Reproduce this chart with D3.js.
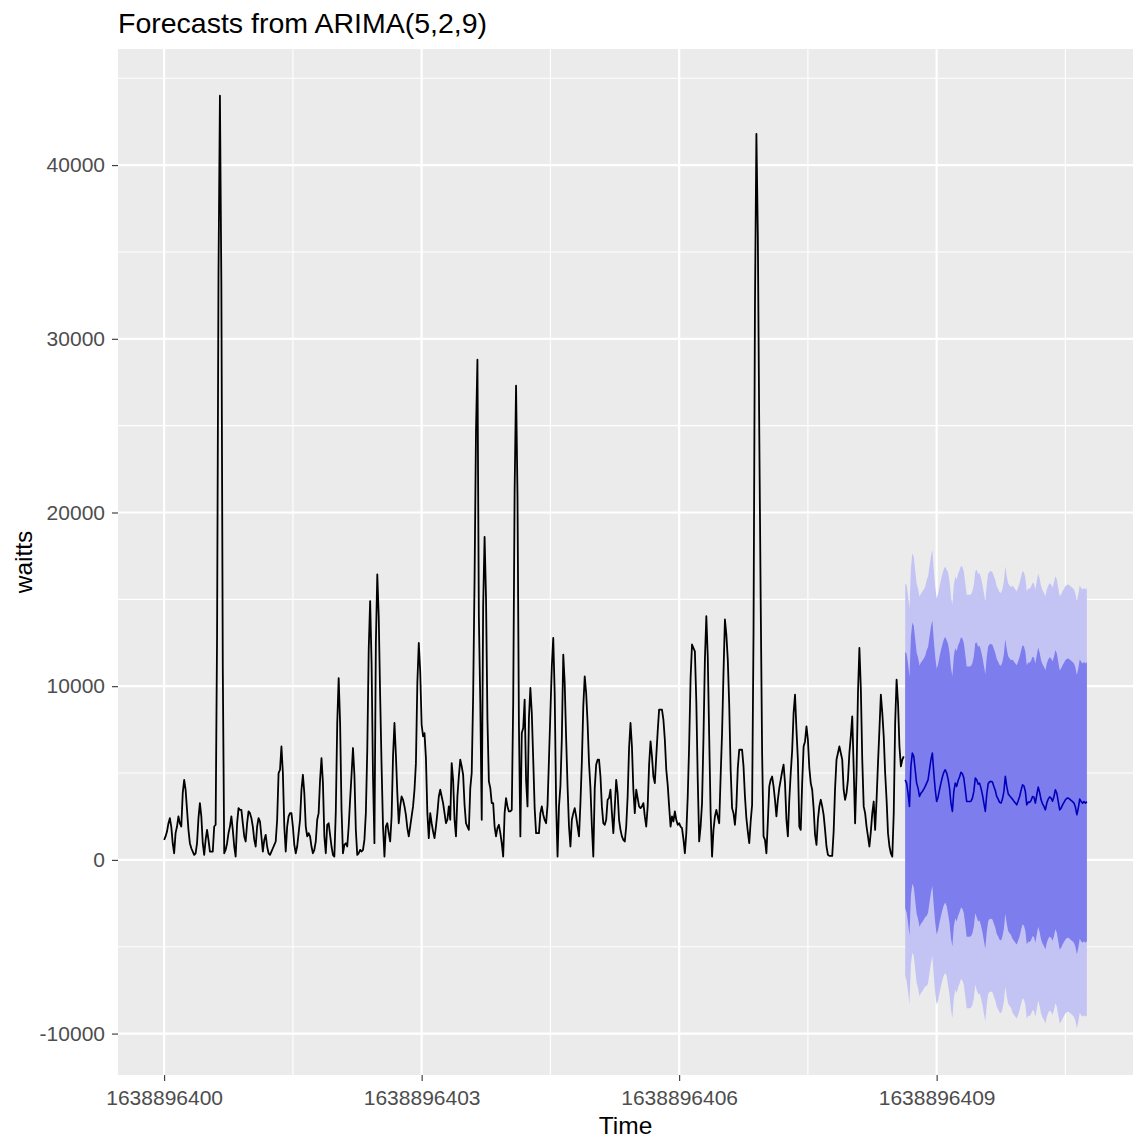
<!DOCTYPE html>
<html>
<head>
<meta charset="utf-8">
<script src="https://cdn.jsdelivr.net/npm/d3@7"></script>
<style>
  body { margin: 0; background: #ffffff; }
  svg { font-family: "Liberation Sans", Arial, sans-serif; }
</style>
</head>
<body>
<script>
// series start + sampling rate (ts attributes)
const startTime = 1638896400;
const frequency = 60;

// observed series "waitts"
const waitts = [
  1150, 1350, 1630, 2100, 2400, 1900, 960, 380, 1540, 1920,
  2500, 2100, 1920, 3840, 4600, 4040, 2880, 1730, 960, 670,
  480, 290, 380, 960, 2400, 3270, 2500, 960, 290, 1150,
  1730, 1150, 480, 480, 480, 1920, 2020, 12900, 33750, 44000,
  33100, 11100, 380, 580, 960, 1540, 1920, 2500, 1730, 770,
  190, 2100, 2980, 2880, 2880, 2100, 1350, 1060, 2100, 2790,
  2690, 2400, 1920, 1150, 770, 1920, 2400, 2210, 1350, 480,
  1150, 1440, 770, 380, 290, 480, 670, 860, 1060, 2310,
  5000, 5190, 6530, 5000, 1920, 480, 1920, 2500, 2690, 2690,
  1920, 860, 380, 770, 1540, 2310, 4040, 4900, 3840, 1920,
  1350, 1540, 1350, 770, 380, 580, 1060, 2310, 2690, 4610,
  5860, 4420, 1350, 380, 2020, 2110, 1440, 770, 290, 190,
  2790, 7880, 10470, 7880, 2880, 380, 860, 960, 770, 1920,
  3460, 4900, 6440, 4900, 1730, 290, 380, 580, 480, 580,
  1150, 2690, 6340, 12110, 14900, 11340, 4800, 960, 12490, 16430,
  14030, 9420, 5380, 1920, 190, 1920, 2110, 1540, 1060, 2500,
  5960, 7880, 6050, 3840, 2110, 3080, 3650, 3460, 3080, 2590,
  1830, 1350, 1920, 2500, 3080, 4040, 5570, 10190, 12490, 10860,
  7780, 7110, 7300, 5860, 2690, 1250, 2690, 2110, 1630, 1250,
  1920, 2690, 3650, 4040, 3650, 3270, 2690, 2110, 2310, 3080,
  2310, 5570, 4610, 2310, 1350, 3650, 4800, 5770, 5380, 4900,
  3170, 2110, 1920, 1730, 4130, 5000, 9420, 16240, 24700, 28800,
  14000, 9050, 2310, 14600, 18600, 15100, 8070, 4520, 4130, 3270,
  3270, 1920, 1350, 1830, 2020, 1540, 960, 190, 2690, 3560,
  3080, 2790, 2790, 2880, 9030, 21300, 27300, 21000, 7780, 1350,
  7300, 7590, 9230, 4610, 3080, 8170, 9900, 8460, 5770, 2980,
  1540, 1540, 1540, 2690, 3080, 2600, 2300, 2110, 3170, 5770,
  8460, 11150, 12780, 9610, 3270, 190, 3080, 4230, 7000, 11820,
  10190, 7020, 4230, 1920, 770, 2310, 2690, 2980, 2500, 1920,
  1350, 3270, 5670, 8840, 10570, 9610, 7880, 5570, 4130, 1920,
  190, 4130, 5480, 5770, 5770, 4800, 3080, 2110, 2020, 2310,
  3460, 3560, 4040, 2690, 1540, 3000, 4610, 3840, 2310, 1730,
  1350, 1150, 1060, 1920, 3650, 6440, 7880, 6530, 4040, 2690,
  4040, 3560, 3080, 2980, 3080, 3270, 2500, 1920, 3080, 5480,
  6820, 5960, 4800, 4420, 5960, 7400, 8650, 8650, 8650, 8070,
  6920, 5190, 4320, 3080, 1920, 2500, 2210, 2790, 2310, 2020,
  2110, 1920, 1830, 1200, 380, 1540, 3650, 6630, 10470, 12400,
  12200, 12000, 9130, 4610, 1060, 1920, 3270, 7000, 11530, 14030,
  11720, 7110, 2690, 190, 1730, 2500, 2880, 2500, 2110, 4800,
  7300, 10760, 13840, 12970, 11530, 8940, 5190, 2980, 2690, 2020,
  3080, 5290, 6340, 6340, 6340, 5380, 3650, 2400, 1630, 960,
  2210, 3170, 13170, 32000, 41800, 36000, 24700, 14900, 6150, 1350,
  1150, 380, 2200, 4230, 4610, 4800, 4230, 3460, 2500, 3460,
  4130, 4610, 5090, 5480, 4420, 2310, 1350, 3460, 5000, 6290,
  8460, 9510, 7500, 5770, 1920, 1730, 4420, 6530, 6820, 7690,
  6920, 5290, 4420, 4040, 2980, 1440, 860, 2310, 3080, 3460,
  3080, 2590, 1730, 770, 290, 230, 230, 230, 1630, 4130,
  5770, 6150, 6530, 6150, 5770, 4040, 3460, 3840, 4610, 6150,
  7110, 8260, 5290, 2110, 5000, 9610, 12200, 9900, 5770, 3080,
  2690, 1920, 1350, 770, 1630, 2690, 3360, 1730, 3460, 5570,
  7500, 9510, 8460, 7110, 5000, 3460, 1540, 770, 380, 190,
  2690, 7880, 10380, 9030, 6530, 5380, 5770, 5960
];

// ARIMA(5,2,9) point forecasts
const fcMean = [
  4610, 4420, 3840, 3080, 5380, 6150, 5960, 5190, 4420, 4130,
  3650, 3840, 3940, 4070, 4230, 4420, 4610, 5190, 5770, 6150,
  5000, 4040, 3360, 3610, 4040, 4420, 4770, 5040, 5190, 5000,
  4650, 4130, 3270, 2790, 3940, 4420, 4230, 4570, 4770, 5040,
  4960, 4710, 4040, 3360, 3360, 3360, 3380, 3560, 3940, 4710,
  4610, 4360, 4420, 4130, 3750, 3270, 2790, 3750, 4380, 4500,
  4520, 4480, 4230, 4000, 3650, 3500, 3310, 3270, 3500, 3940,
  4810, 4230, 3810, 3690, 3590, 3500, 3380, 3270, 3170, 3400,
  3650, 4000, 4320, 4260, 3940, 3170, 3330, 3310, 3420, 3650,
  3610, 3270, 3750, 4190, 3880, 3460, 3230, 3080, 2880, 3270,
  3500, 3630, 3560, 3380, 3650, 4040, 3840, 3360, 2880, 2980,
  3170, 3310, 3460, 3540, 3560, 3500, 3420, 3350, 3270, 3040,
  2600, 2980, 3500, 3360, 3270, 3350, 3270, 3350
];

const fcHi95 = [
  15910, 15820, 15240, 14480, 16780, 17650, 17460, 16690, 15920, 15630,
  15150, 15340, 15440, 15570, 15730, 16120, 16310, 16890, 17470, 17850,
  16700, 15740, 15060, 15310, 15740, 16120, 16470, 16740, 16890, 16700,
  16550, 16030, 15170, 14690, 15840, 16320, 16130, 16470, 16670, 16940,
  16860, 16610, 15940, 15260, 15260, 15260, 15280, 15460, 15840, 16610,
  16710, 16460, 16520, 16230, 15850, 15370, 14890, 15850, 16480, 16600,
  16620, 16580, 16330, 16100, 15750, 15600, 15410, 15370, 15600, 16040,
  16910, 16330, 15910, 15790, 15690, 15800, 15680, 15570, 15470, 15700,
  15950, 16300, 16620, 16560, 16240, 15470, 15630, 15610, 15720, 15950,
  15910, 15570, 16050, 16490, 16180, 15760, 15530, 15380, 15180, 15570,
  15800, 15930, 15860, 15680, 15950, 16340, 16140, 15660, 15180, 15280,
  15470, 15610, 15760, 15840, 15860, 15800, 15720, 15650, 15570, 15340,
  14900, 15280, 15800, 15660, 15570, 15650, 15570, 15650
];

const fcHi80 = [
  11990, 11870, 11290, 10530, 12830, 13670, 13480, 12710, 11940, 11650,
  11170, 11360, 11460, 11590, 11750, 12070, 12260, 12840, 13420, 13800,
  12650, 11690, 11010, 11260, 11690, 12070, 12420, 12690, 12840, 12650,
  12430, 11910, 11050, 10570, 11720, 12200, 12010, 12350, 12550, 12820,
  12740, 12490, 11820, 11140, 11140, 11140, 11160, 11340, 11720, 12490,
  12520, 12270, 12330, 12040, 11660, 11180, 10700, 11660, 12290, 12410,
  12430, 12390, 12140, 11910, 11560, 11410, 11220, 11180, 11410, 11850,
  12720, 12140, 11720, 11600, 11500, 11540, 11420, 11310, 11210, 11440,
  11690, 12040, 12360, 12300, 11980, 11210, 11370, 11350, 11460, 11690,
  11650, 11310, 11790, 12230, 11920, 11500, 11270, 11120, 10920, 11310,
  11540, 11670, 11600, 11420, 11690, 12080, 11880, 11400, 10920, 11020,
  11210, 11350, 11500, 11580, 11600, 11540, 11460, 11390, 11310, 11080,
  10640, 11020, 11540, 11400, 11310, 11390, 11310, 11390
];

const fcLo80 = [
  -2770, -3030, -3610, -4370, -2070, -1370, -1560, -2330, -3100, -3390,
  -3870, -3680, -3580, -3450, -3290, -3230, -3040, -2460, -1880, -1500,
  -2650, -3610, -4290, -4040, -3610, -3230, -2880, -2610, -2460, -2650,
  -3130, -3650, -4510, -4990, -3840, -3360, -3550, -3210, -3010, -2740,
  -2820, -3070, -3740, -4420, -4420, -4420, -4400, -4220, -3840, -3070,
  -3300, -3550, -3490, -3780, -4160, -4640, -5120, -4160, -3530, -3410,
  -3390, -3430, -3680, -3910, -4260, -4410, -4600, -4640, -4410, -3970,
  -3100, -3680, -4100, -4220, -4320, -4540, -4660, -4770, -4870, -4640,
  -4390, -4040, -3720, -3780, -4100, -4870, -4710, -4730, -4620, -4390,
  -4430, -4770, -4290, -3850, -4160, -4580, -4810, -4960, -5160, -4770,
  -4540, -4410, -4480, -4660, -4390, -4000, -4200, -4680, -5160, -5060,
  -4870, -4730, -4580, -4500, -4480, -4540, -4620, -4690, -4770, -5000,
  -5440, -5060, -4540, -4680, -4770, -4690, -4770, -4690
];

const fcLo95 = [
  -6690, -6980, -7560, -8320, -6020, -5350, -5540, -6310, -7080, -7370,
  -7850, -7660, -7560, -7430, -7270, -7280, -7090, -6510, -5930, -5550,
  -6700, -7660, -8340, -8090, -7660, -7280, -6930, -6660, -6510, -6700,
  -7250, -7770, -8630, -9110, -7960, -7480, -7670, -7330, -7130, -6860,
  -6940, -7190, -7860, -8540, -8540, -8540, -8520, -8340, -7960, -7190,
  -7490, -7740, -7680, -7970, -8350, -8830, -9310, -8350, -7720, -7600,
  -7580, -7620, -7870, -8100, -8450, -8600, -8790, -8830, -8600, -8160,
  -7290, -7870, -8290, -8410, -8510, -8800, -8920, -9030, -9130, -8900,
  -8650, -8300, -7980, -8040, -8360, -9130, -8970, -8990, -8880, -8650,
  -8690, -9030, -8550, -8110, -8420, -8840, -9070, -9220, -9420, -9030,
  -8800, -8670, -8740, -8920, -8650, -8260, -8460, -8940, -9420, -9320,
  -9130, -8990, -8840, -8760, -8740, -8800, -8880, -8950, -9030, -9260,
  -9700, -9320, -8800, -8940, -9030, -8950, -9030, -8950
];

// axis breaks
const xTicks = [1638896400, 1638896403, 1638896406, 1638896409];
const xMinor = [1638896401.5, 1638896404.5, 1638896407.5, 1638896410.5];
const yTicks = [-10000, 0, 10000, 20000, 30000, 40000];
const yMinor = [-5000, 5000, 15000, 25000, 35000, 45000];

const titleText = "Forecasts from ARIMA(5,2,9)";
const xLabel = "Time";
const yLabel = "waitts";

var W = 1133, H = 1138;
var margin = {top: 49, right: 0, bottom: 63, left: 118},
    width = W - margin.left - margin.right,
    height = H - margin.top - margin.bottom;

var n = waitts.length;
var hist = waitts.map(function(v, i) { return {t: startTime + i / frequency, v: v}; });
var fc = fcMean.map(function(m, k) {
  return {t: startTime + (n + k) / frequency, mean: m,
          lo80: fcLo80[k], hi80: fcHi80[k], lo95: fcLo95[k], hi95: fcHi95[k]};
});

// ggplot style 5% expansion
var tExt = [hist[0].t, fc[fc.length - 1].t];
var tPad = (tExt[1] - tExt[0]) * 0.05;
var yLo = Math.min(d3.min(waitts), d3.min(fcLo95)),
    yHi = Math.max(d3.max(waitts), d3.max(fcHi95));
var yPad = (yHi - yLo) * 0.05;

var x = d3.scaleLinear().domain([tExt[0] - tPad, tExt[1] + tPad]).range([0, width]);
var y = d3.scaleLinear().domain([yLo - yPad, yHi + yPad]).range([height, 0]);

var svg = d3.select("body").append("svg")
    .attr("width", W)
    .attr("height", H);

svg.append("rect").attr("width", W).attr("height", H).attr("fill", "#ffffff");

var g = svg.append("g")
    .attr("transform", "translate(" + margin.left + "," + margin.top + ")");

g.append("rect")
    .attr("width", width)
    .attr("height", height)
    .attr("fill", "#ebebeb");

// minor grid
g.selectAll(".xminor").data(xMinor).enter().append("line")
    .attr("x1", function(d) { return x(d); }).attr("x2", function(d) { return x(d); })
    .attr("y1", 0).attr("y2", height)
    .attr("stroke", "#ffffff").attr("stroke-width", 1.1);
g.selectAll(".yminor").data(yMinor).enter().append("line")
    .attr("y1", function(d) { return y(d); }).attr("y2", function(d) { return y(d); })
    .attr("x1", 0).attr("x2", width)
    .attr("stroke", "#ffffff").attr("stroke-width", 1.1);

// major grid
g.selectAll(".xmajor").data(xTicks).enter().append("line")
    .attr("x1", function(d) { return x(d); }).attr("x2", function(d) { return x(d); })
    .attr("y1", 0).attr("y2", height)
    .attr("stroke", "#ffffff").attr("stroke-width", 2.2);
g.selectAll(".ymajor").data(yTicks).enter().append("line")
    .attr("y1", function(d) { return y(d); }).attr("y2", function(d) { return y(d); })
    .attr("x1", 0).attr("x2", width)
    .attr("stroke", "#ffffff").attr("stroke-width", 2.2);

// prediction intervals
var band95 = d3.area()
    .x(function(d) { return x(d.t); })
    .y0(function(d) { return y(d.lo95); })
    .y1(function(d) { return y(d.hi95); });
var band80 = d3.area()
    .x(function(d) { return x(d.t); })
    .y0(function(d) { return y(d.lo80); })
    .y1(function(d) { return y(d.hi80); });

g.append("path").datum(fc).attr("d", band95).attr("fill", "#c4c4f4");
g.append("path").datum(fc).attr("d", band80).attr("fill", "#7d7dee");

var line = d3.line()
    .x(function(d) { return x(d.t); })
    .y(function(d) { return y(d.v); });

g.append("path").datum(hist)
    .attr("d", line)
    .attr("fill", "none")
    .attr("stroke", "#000000")
    .attr("stroke-width", 1.8)
    .attr("stroke-linejoin", "round");

var meanLine = d3.line()
    .x(function(d) { return x(d.t); })
    .y(function(d) { return y(d.mean); });

g.append("path").datum(fc)
    .attr("d", meanLine)
    .attr("fill", "none")
    .attr("stroke", "#0000bb")
    .attr("stroke-width", 1.6)
    .attr("stroke-linejoin", "round");

// axes
var fmt = function(d) { return String(d); };
var xAxis = d3.axisBottom(x).tickValues(xTicks).tickFormat(fmt)
    .tickSizeInner(6).tickSizeOuter(0).tickPadding(9);
var yAxis = d3.axisLeft(y).tickValues(yTicks).tickFormat(fmt)
    .tickSizeInner(6).tickSizeOuter(0).tickPadding(7);

var gx = g.append("g").attr("transform", "translate(0," + height + ")").call(xAxis);
var gy = g.append("g").call(yAxis);

[gx, gy].forEach(function(a) {
  a.select(".domain").remove();
  a.selectAll(".tick line").attr("stroke", "#333333").attr("stroke-width", 1.1);
  a.selectAll(".tick text")
      .attr("fill", "#4d4d4d")
      .style("font-size", "21px")
      .style("font-family", "'Liberation Sans', Arial, sans-serif");
});

svg.append("text")
    .attr("x", margin.left + width / 2)
    .attr("y", 1134)
    .attr("text-anchor", "middle")
    .style("font-size", "24.5px")
    .attr("fill", "#000000")
    .text(xLabel);

svg.append("text")
    .attr("transform", "translate(32," + (margin.top + height / 2) + ") rotate(-90)")
    .attr("text-anchor", "middle")
    .style("font-size", "24.5px")
    .attr("fill", "#000000")
    .text(yLabel);

svg.append("text")
    .attr("x", margin.left)
    .attr("y", 33)
    .style("font-size", "28.5px")
    .attr("fill", "#000000")
    .text(titleText);
</script>
</body>
</html>
